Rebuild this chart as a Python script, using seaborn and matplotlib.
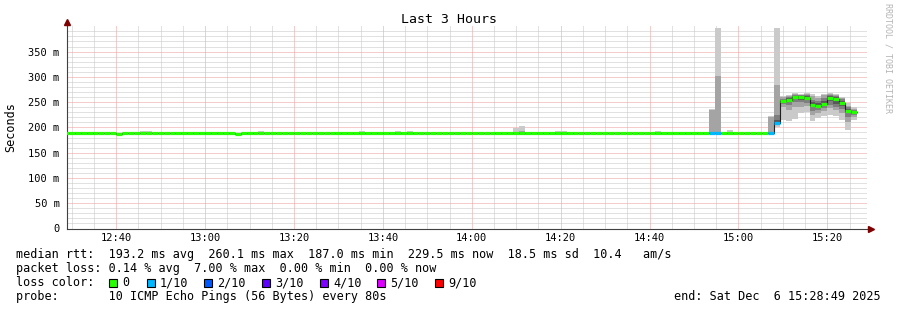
import numpy as np
import pandas as pd
import matplotlib
matplotlib.use("Agg")
import matplotlib.pyplot as plt
from matplotlib.patches import Rectangle
import seaborn as sns

# ---------------- data ----------------
# time axis in minutes after 12:00; one RRD step = 80 s
STEP_MIN = 80 / 60
FIRST_STEP = 21                      # step k starts at k*80 s after 12:00
VIEW_START = 28 + 49 / 60            # 12:28:49
VIEW_END = 208 + 49 / 60             # 15:28:49
nan = np.nan

# median rtt per step (ms)
median_ms = [
    188, 188, 188, 188, 188, 188, 188, 188, 188, 187,
    188, 188, 188, 188, 188, 188, 188, 188, 188, 188,
    188, 188, 188, 188, 188, 188, 188, 188, 188, 187,
    188, 188, 188, 188, 188, 188, 188, 188, 188, 188,
    188, 188, 188, 188, 188, 188, 188, 188, 188, 188,
    188, 188, 188, 188, 188, 188, 188, 188, 188, 188,
    188, 188, 188, 188, 188, 188, 188, 188, 188, 188,
    188, 188, 188, 188, 188, 188, 188, 188, 188, 188,
    188, 188, 188, 188, 188, 188, 188, 188, 188, 188,
    188, 188, 188, 188, 188, 188, 188, 188, 188, 188,
    188, 188, 188, 188, 188, 188, 188, 188, 188, 188,
    188, 188, 188, 188, 188, 188, 188, 188, 188, 188,
    209, 252, 255, 260, 260, 259, 244, 243, 246, 259,
    257, 249, 233, 230, nan, nan,
]

# lost pings (out of 10) per step
lost_pings = [
    0, 0, 0, 0, 0, 0, 0, 0, 0, 0,
    0, 0, 0, 0, 0, 0, 0, 0, 0, 0,
    0, 0, 0, 0, 0, 0, 0, 0, 0, 0,
    0, 0, 0, 0, 0, 0, 0, 0, 0, 0,
    0, 0, 0, 0, 0, 0, 0, 0, 0, 0,
    0, 0, 0, 0, 0, 0, 0, 0, 0, 0,
    0, 0, 0, 0, 0, 0, 0, 0, 0, 0,
    0, 0, 0, 0, 0, 0, 0, 0, 0, 0,
    0, 0, 0, 0, 0, 0, 0, 0, 0, 0,
    0, 0, 0, 0, 0, 0, 0, 0, 0, 0,
    0, 0, 0, 0, 0, 0, 0, 0, 0, 1,
    1, 0, 0, 0, 0, 0, 0, 0, 0, 1,
    1, 0, 0, 0, 0, 0, 0, 0, 0, 0,
    0, 0, 0, 0, 0, 0,
]

# sorted individual pings (ms) for steps where the smoke is visible
smoke_steps = [34, 35, 54, 71, 77, 79, 97, 98, 104, 105, 121, 130, 131, 133,
               140, 141, 142, 143, 144, 145, 146, 147, 148, 149, 150, 151,
               152, 153, 154]
smoke_pings = [
    [187, 188, 188, 188, 188, 188, 188, 188, 189, 193],
    [187, 188, 188, 188, 188, 188, 188, 188, 189, 192],
    [187, 188, 188, 188, 188, 188, 188, 188, 189, 193],
    [187, 188, 188, 188, 188, 188, 188, 188, 189, 193],
    [187, 188, 188, 188, 188, 188, 188, 188, 189, 192],
    [187, 188, 188, 188, 188, 188, 188, 188, 189, 192],
    [187, 188, 188, 188, 188, 188, 188, 189, 190, 198],
    [187, 188, 188, 188, 188, 188, 188, 189, 192, 203],
    [187, 188, 188, 188, 188, 188, 188, 188, 189, 193],
    [187, 188, 188, 188, 188, 188, 188, 188, 189, 193],
    [187, 188, 188, 188, 188, 188, 188, 188, 189, 193],
    [187, 187, 188, 188, 188, 188, 188, 188, 234, 236],
    [187, 187, 188, 188, 188, 188, 188, 188, 302, 396],
    [187, 188, 188, 188, 188, 188, 188, 188, 189, 194],
    [187, 187, 188, 188, 188, 188, 188, 188, 220, 222],
    [200, 204, 206, 208, 209, 210, 214, 225, 284, 396],
    [215, 240, 246, 250, 251, 253, 255, 257, 260, 263],
    [212, 235, 245, 250, 254, 256, 258, 260, 262, 265],
    [217, 240, 250, 256, 259, 261, 263, 264, 266, 268],
    [228, 240, 250, 255, 259, 261, 263, 264, 265, 267],
    [230, 242, 248, 254, 258, 260, 262, 264, 266, 268],
    [212, 225, 233, 240, 243, 245, 250, 255, 262, 266],
    [218, 228, 235, 240, 242, 244, 248, 252, 258, 262],
    [222, 232, 238, 243, 245, 247, 252, 258, 264, 267],
    [225, 238, 245, 252, 258, 260, 262, 265, 267, 268],
    [222, 235, 240, 246, 256, 258, 260, 262, 265, 267],
    [215, 228, 236, 243, 248, 250, 253, 256, 258, 260],
    [195, 210, 220, 228, 232, 234, 237, 240, 243, 248],
    [215, 220, 224, 227, 229, 230, 232, 234, 237, 240],
]

loss_levels = [0, 1, 2, 3, 4, 5, 9]
loss_labels = ["0", "1/10", "2/10", "3/10", "4/10", "5/10", "9/10"]
loss_colors = ["#26ff00", "#00b8ff", "#0059ff", "#5e00ff", "#7e00ff", "#dd00ff", "#ff0000"]
smoke_colors = ["#cacaca", "#a4a4a4", "#7e7e7e", "#585858", "#323232"]

y_major = [0, 50, 100, 150, 200, 250, 300, 350]
y_labels = ["0", "50 m", "100 m", "150 m", "200 m", "250 m", "300 m", "350 m"]
x_major = [40, 60, 80, 100, 120, 140, 160, 180, 200]
x_labels = ["12:40", "13:00", "13:20", "13:40", "14:00", "14:20", "14:40", "15:00", "15:20"]

title = "Last 3 Hours"
ylabel = "Seconds"
side_text = "RRDTOOL / TOBI OETIKER"
legend_line1 = "median rtt:  193.2 ms avg  260.1 ms max  187.0 ms min  229.5 ms now  18.5 ms sd  10.4   am/s"
legend_line2 = "packet loss: 0.14 % avg  7.00 % max  0.00 % min  0.00 % now"
legend_line3 = "loss color:"
legend_line4 = "probe:       10 ICMP Echo Pings (56 Bytes) every 80s"
end_text = "end: Sat Dec  6 15:28:49 2025"

# ---------------- style ----------------
sns.set_theme(style="white")
MONO = "DejaVu Sans Mono"
plt.rcParams["font.family"] = [MONO, "DejaVu Sans"]
plt.rcParams["text.color"] = "black"

W, H = 897, 310
fig = plt.figure(figsize=(W / 100, H / 100), dpi=100)
fig.patch.set_facecolor("white")
ax_left, ax_right, ax_top, ax_bottom = 66.5, 866.5, 26.3, 228.5
ax = fig.add_axes([ax_left / W, (H - ax_bottom) / H,
                   (ax_right - ax_left) / W, (ax_bottom - ax_top) / H])
ax.set_facecolor("white")

n_steps = len(median_ms)
df = pd.DataFrame({
    "start": (np.arange(n_steps) + FIRST_STEP) * STEP_MIN,
    "median": median_ms,
    "lost": lost_pings,
})
df["end"] = df["start"] + STEP_MIN

# smoke
for k, pings in zip(smoke_steps, smoke_pings):
    p = sorted(pings)
    x0 = k * STEP_MIN
    for ii in range(5):
        lo, hi = p[ii], p[9 - ii]
        if hi - lo <= 0:
            continue
        ax.bar(x0, hi - lo, bottom=lo, width=STEP_MIN, align="edge",
               color=smoke_colors[ii], linewidth=0, zorder=2)

# dark median step line
valid = df.dropna(subset=["median"])
line_df = pd.DataFrame({
    "t": list(valid["start"]) + [valid["end"].iloc[-1]],
    "ms": list(valid["median"]) + [valid["median"].iloc[-1]],
})
sns.lineplot(data=line_df, x="t", y="ms", drawstyle="steps-post",
             color="#202020", linewidth=0.8, ax=ax, estimator=None,
             sort=False, zorder=3)

# loss-coloured median segments
for lvl, col in zip(loss_levels, loss_colors):
    sub = valid[valid["lost"] == lvl]
    if len(sub):
        ax.hlines(sub["median"], sub["start"], sub["end"], colors=col,
                  linewidth=2.3, zorder=4)

ax.set_xlim(VIEW_START, VIEW_END)
ax.set_ylim(0, 400)
ax.set_xlabel("")
ax.set_ylabel("")

# grid
ax.set_yticks(y_major)
ax.set_yticklabels(y_labels)
ax.set_yticks([v for v in range(10, 400, 10) if v % 50 != 0], minor=True)
ax.set_xticks(x_major)
ax.set_xticklabels(x_labels)
ax.set_xticks([m for m in range(30, 209, 5) if m % 20 != 0], minor=True)
ax.grid(which="major", color="#ec9a9a", linestyle=(0, (1, 1)), linewidth=0.72)
ax.grid(which="minor", color="#c4c4c4", linestyle=(0, (1, 1)), linewidth=0.72)
ax.set_axisbelow(True)

for s in ["top", "right"]:
    ax.spines[s].set_visible(False)
for s in ["left", "bottom"]:
    ax.spines[s].set_color("#404040")
    ax.spines[s].set_linewidth(0.8)

ax.tick_params(axis="y", which="major", length=2.5, width=0.8, color="#404040",
               direction="out", pad=2.5, labelsize=7.5, labelcolor="black")
ax.tick_params(axis="x", which="major", length=0, pad=3.5, labelsize=7.5,
               labelcolor="black")
ax.tick_params(which="minor", length=0)
for lab in ax.get_xticklabels() + ax.get_yticklabels():
    lab.set_fontfamily(MONO)

# axis arrows
ax.plot([0, 0], [1, 1.015], color="#404040", lw=0.8, transform=ax.transAxes, clip_on=False)
ax.plot([0], [1.02], marker="^", color="#7f0000", markersize=4.2,
        transform=ax.transAxes, clip_on=False, zorder=6)
ax.plot([1, 1.004], [0, 0], color="#404040", lw=0.8, transform=ax.transAxes, clip_on=False)
ax.plot([1.0055], [0], marker=">", color="#7f0000", markersize=4.2,
        transform=ax.transAxes, clip_on=False, zorder=6)

# texts
def px(x, y):
    return x / W, 1 - y / H

fig.text(*px(448.5, 19.5), title, ha="center", va="center", fontsize=9.5, family=MONO)
fig.text(*px(11, 127), ylabel, ha="center", va="center", rotation=90,
         fontsize=8.5, family=MONO)
fig.text(*px(888, 3), side_text, ha="center", va="top", rotation=270,
         fontsize=6, color="#b4b4b4", family=MONO)

LEG = 8.5
fig.text(*px(16, 258.3), legend_line1, ha="left", va="baseline", fontsize=LEG, family=MONO)
fig.text(*px(16, 272.0), legend_line2, ha="left", va="baseline", fontsize=LEG, family=MONO)
fig.text(*px(16, 286.0), legend_line3, ha="left", va="baseline", fontsize=LEG, family=MONO)
fig.text(*px(16, 300.0), legend_line4, ha="left", va="baseline", fontsize=LEG, family=MONO)
fig.text(*px(880.5, 300.0), end_text, ha="right", va="baseline", fontsize=LEG, family=MONO)

square_x = [109.3, 146.7, 204.0, 262.3, 320.0, 377.3, 435.3]
for sx, col, lab in zip(square_x, loss_colors, loss_labels):
    fig.patches.append(Rectangle(((sx) / W, 1 - 286.5 / H), 8 / W, 8 / H,
                                 transform=fig.transFigure, facecolor=col,
                                 edgecolor="black", linewidth=0.8))
    fig.text(*px(sx + 13, 286.0), lab, ha="left", va="baseline", fontsize=LEG, family=MONO)

fig.savefig("out.png", dpi=100, facecolor="white")
